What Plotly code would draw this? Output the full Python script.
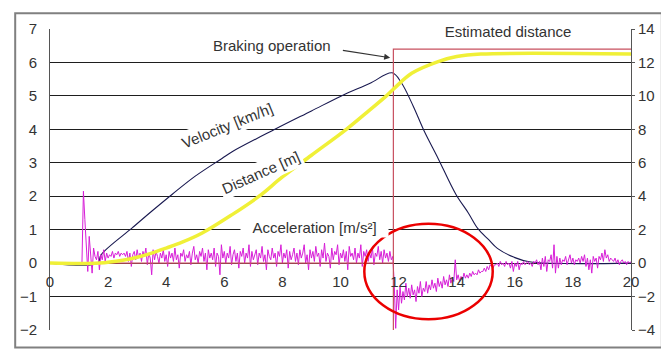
import numpy as np
import plotly.graph_objects as go

# ---------------- data ----------------
x_ticks = [0, 2, 4, 6, 8, 10, 12, 14, 16, 18, 20]

vel_t = [0, 1.65, 1.75, 2.84, 3.5, 4.21, 5.0, 5.92, 6.27, 7.74, 9.0, 10.03, 11.0, 11.78,
         12.09, 12.5, 12.88, 13.36, 13.97, 14.4, 14.73, 15.1, 15.4, 15.96, 16.5, 20]
vel_v = [0, 0, 0.24, 1.06, 1.55, 2.06, 2.6, 3.13, 3.33, 4.0, 4.55, 5.0, 5.37, 5.69,
         5.4, 4.7, 3.95, 3.13, 2.06, 1.5, 1.03, 0.7, 0.44, 0.18, 0.04, 0]

dist_t = [0, 1.7, 2.5, 3.0, 3.5, 4.0, 4.55, 5.24, 6.27, 7.2, 8.0, 9.0, 10.2, 11.0, 11.58,
          11.85, 12.45, 13.36, 14.0, 14.83, 20]
dist_v = [0, 0, 0.17, 0.35, 0.6, 0.9, 1.25, 1.8, 2.9, 4.0, 5.15, 6.45, 8.0, 9.15, 10.0,
          10.45, 11.35, 12.05, 12.35, 12.5, 12.5]

est_t = [0, 11.82, 11.82, 11.82, 20]
est_v = [0, 0, -4, 12.8, 12.8]

dt = 0.05
acc_seg1 = [
    0.0, 2.15, 1.30, 0.55, -0.25, 0.80, 0.35, -0.30, 0.45, 0.20,
    0.10, 0.35, -0.20, 0.25, 0.10, 0.40, 0.05, 0.30, 0.15, 0.25,
    0.20, 0.35, 0.15, 0.30, 0.25, 0.35, 0.20, 0.30, 0.25, 0.30,
    0.20, 0.35, 0.05, 0.30, -0.10, 0.25, 0.35, 0.10, 0.40, 0.15,
    0.30, 0.05, 0.35, 0.20, 0.45, -0.05, 0.30, 0.15, -0.35, 0.40,
    0.10, 0.35, 0.20, 0.00, 0.30, 0.15, 0.40, 0.05, 0.25, -0.10,
    0.35, 0.15, 0.30, 0.05, 0.45, 0.10, 0.25, -0.15, 0.30, 0.20,
    0.40, 0.05, 0.25, 0.15, 0.35, -0.05, 0.30, 0.50, 0.10, 0.25,
    0.00, 0.35, 0.20, 0.45, 0.05, 0.30, -0.20, 0.40, 0.15, 0.30,
    0.10, 0.45, -0.10, 0.30, 0.20, -0.35, 0.55, 0.15, 0.35, 0.00,
    0.30, 0.15, 0.50, -0.05, 0.25, 0.40, 0.05, 0.30, -0.15, 0.35,
    0.20, 0.45, 0.00, 0.30, 0.15, 0.55, -0.10, 0.35, 0.10, 0.25,
    0.40, -0.05, 0.30, 0.15, 0.50, 0.05, 0.25, -0.20, 0.40, 0.20,
    0.10, 0.45, 0.15, 0.30, -0.10, 0.35, 0.20, 0.55, 0.00, 0.30,
    0.15, 0.40, -0.15, 0.35, 0.10, 0.25, 0.45, 0.05, 0.30, -0.05,
    0.40, 0.15, 0.30, 0.55, 0.00, 0.25, -0.20, 0.40, 0.15, 0.35,
    0.05, 0.50, 0.20, 0.30, -0.10, 0.40, 0.15, 0.60, 0.05, 0.30,
    0.20, -0.15, 0.45, 0.10, 0.35, 0.25, 0.55, -0.05, 0.30, 0.15,
    0.40, 0.05, 0.35, -0.20, 0.50, 0.20, 0.30, 0.10, 0.45, 0.00,
    0.30, 0.15, 0.55, -0.10, 0.35, 0.20, 0.40, 0.05, 0.30, 0.15,
    0.45, -0.05, 0.30, 0.20, 0.50, 0.10, 0.35, 0.00, 0.40, 0.15,
    0.30, 0.05, 0.35, 0.10, 0.20, -0.60,
]
acc_seg2 = [
    -1.95, -0.80, -1.40, -0.70, -1.20, -0.85, -1.10, -0.60, -1.00, -0.75,
    -1.05, -0.65, -0.95, -0.80, -1.15, -0.70, -0.90, -0.55, -1.00, -0.75,
    -0.85, -0.55, -0.90, -0.65, -0.80, -0.50, -0.75, -0.60, -0.85, -0.45,
    -0.70, -0.55, -0.75, -0.40, -0.65, -0.50, -0.70, -0.35, -0.60, -0.45,
    -0.55, 0.10, -0.50, -0.35, -0.55, -0.40, -0.50, -0.30, -0.45, -0.35,
    -0.45, -0.30, -0.40, -0.25, -0.35, -0.30, -0.35, -0.20, -0.30, -0.25,
    -0.25, -0.15, -0.25, -0.10, -0.20, -0.05, -0.10, -0.15, -0.05,
]
acc_seg3 = [
    -0.05, 0.00, -0.10, 0.05, -0.05, 0.00, -0.10, 0.05, -0.05, 0.00,
    -0.15, 0.05, -0.25, 0.00, -0.10, 0.05, -0.20, 0.00, -0.05, 0.05,
    -0.05, 0.00, 0.05, -0.05, 0.00, -0.10, 0.05, 0.00, 0.10, -0.05,
    0.05, -0.20, 0.15, -0.10, 0.20, -0.25, 0.10, 0.05, 0.25, -0.15,
    0.55, -0.30, 0.20, -0.15, 0.15, -0.05, 0.10, 0.05, 0.20, -0.05,
    0.10, 0.25, 0.00, 0.15, -0.05, 0.10, 0.05, 0.15, 0.00, 0.20,
    0.05, 0.25, -0.10, 0.15, -0.20, 0.10, -0.30, 0.20, 0.05, 0.15,
    -0.15, 0.20, 0.10, 0.30, 0.05, 0.40, 0.15, 0.25, 0.05, 0.15,
    0.10, 0.05, 0.15, 0.00, 0.10, -0.05, 0.05, 0.10, 0.00, 0.05,
    -0.05, 0.05, 0.00, 0.05,
]
acc_v = acc_seg1 + acc_seg2 + acc_seg3
acc_start = 1.10
acc_t = [round(acc_start + i * dt, 2) for i in range(len(acc_v))]

# ---------------- figure ----------------
FONT = "Liberation Sans, Arial, sans-serif"
TXT = "#333333"
GRID = "#1e1e1e"

fig = go.Figure()
fig.add_trace(go.Scatter(x=est_t, y=est_v, yaxis="y2", mode="lines",
                         line=dict(color="rgb(200,80,95)", width=1.2), hoverinfo="skip"))
fig.add_trace(go.Scatter(x=dist_t, y=dist_v, yaxis="y2", mode="lines", line_shape="spline",
                         line=dict(color="rgb(240,240,55)", width=3.5), hoverinfo="skip"))
fig.add_trace(go.Scatter(x=vel_t, y=vel_v, mode="lines", line_shape="spline",
                         line=dict(color="rgb(25,25,80)", width=1.1), hoverinfo="skip"))
fig.add_trace(go.Scatter(x=acc_t, y=acc_v, mode="lines",
                         line=dict(color="rgb(215,30,215)", width=1), hoverinfo="skip"))

# page body has an 8px margin, so the figure is sized to fit the window from (8, 8)
fig.update_layout(
    width=661, height=343,
    margin=dict(l=39, r=38, t=17, b=21),
    paper_bgcolor="white", plot_bgcolor="white",
    showlegend=False,
    font=dict(family=FONT, size=15, color=TXT),
    xaxis=dict(range=[0, 20], tickvals=x_ticks, ticktext=[str(v) for v in x_ticks],
               anchor="free", position=2 / 9, showgrid=False, zeroline=False, showline=False,
               ticks="outside", ticklen=5, tickcolor="rgba(0,0,0,0)",
               tickfont=dict(size=15, color=TXT, family=FONT)),
    yaxis=dict(range=[-2, 7], dtick=1, showgrid=True, gridcolor=GRID, gridwidth=1,
               zeroline=True, zerolinecolor=GRID, zerolinewidth=1,
               showline=True, linecolor="#555", linewidth=1,
               ticks="outside", ticklen=9, tickcolor="rgba(0,0,0,0)",
               tickfont=dict(size=15, color=TXT, family=FONT)),
    yaxis2=dict(range=[-4, 14], dtick=2, overlaying="y", side="right", showgrid=False,
                zeroline=False, showline=True, linecolor="#555", linewidth=1,
                ticks="outside", ticklen=3, tickcolor="#555",
                tickfont=dict(size=15, color=TXT, family=FONT)),
)

# outer frame
fig.add_shape(type="rect", xref="paper", yref="paper",
              x0=-0.0599, x1=1.0531, y0=-0.058, y1=1.052,
              line=dict(color="#808080", width=2), layer="above")
# red ellipse
fig.add_shape(type="circle", xref="x", yref="y", x0=10.82, x1=15.24, y0=-1.68, y1=1.18,
              line=dict(color="rgb(235,0,0)", width=2.5))

ann_font = dict(family=FONT, size=15, color=TXT)
fig.add_annotation(x=7.64, y=6.5, text="Braking operation", showarrow=False,
                   bgcolor="white", borderpad=6, font=ann_font)
fig.add_annotation(x=11.71, y=6.14, ax=10.03, ay=6.37, axref="x", ayref="y",
                   text="", showarrow=True, arrowhead=2, arrowsize=1, arrowwidth=1.2,
                   arrowcolor="#333")
fig.add_annotation(x=15.75, y=6.93, text="Estimated distance", showarrow=False,
                   bgcolor="white", borderpad=3, width=150, font=ann_font)
fig.add_annotation(x=6.10, y=4.1, text="Velocity [km/h]", showarrow=False, textangle=-22,
                   bgcolor="white", borderpad=2, font=ann_font)
fig.add_annotation(x=7.25, y=2.72, text="Distance [m]", showarrow=False, textangle=-24,
                   bgcolor="white", borderpad=2, font=ann_font)
fig.add_annotation(x=9.11, y=1.06, text="Acceleration [m/s²]", showarrow=False,
                   bgcolor="white", borderpad=1, width=145, font=ann_font)

fig.write_html("out.html")
